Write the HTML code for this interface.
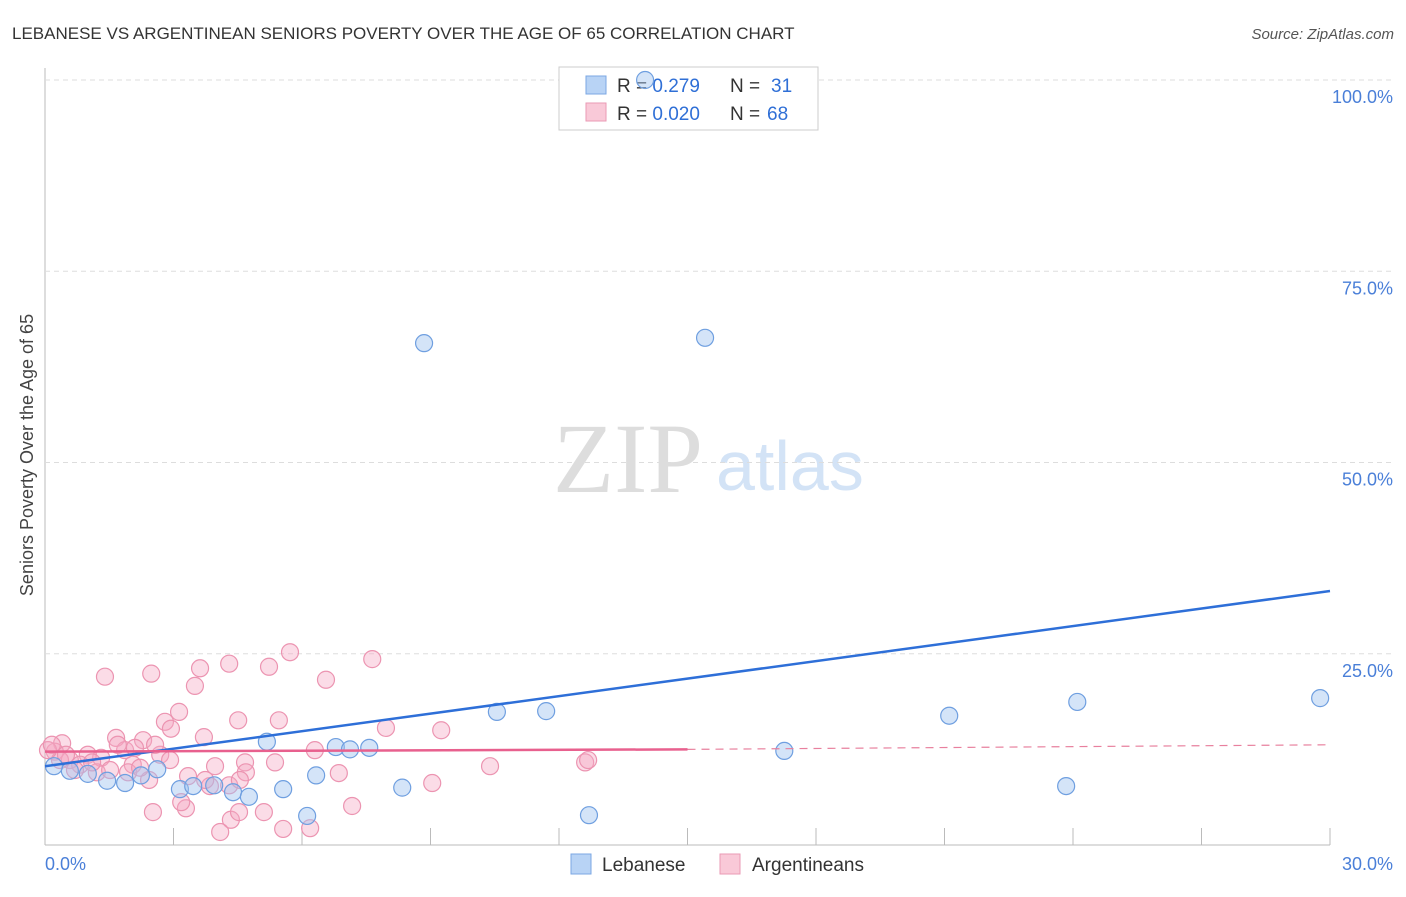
<!DOCTYPE html>
<html><head><meta charset="utf-8"><style>
body{margin:0;background:#fff;font-family:"Liberation Sans",sans-serif}
</style></head><body>
<svg id="chart" width="1406" height="892" font-family="Liberation Sans, sans-serif">
<text x="12" y="39" font-size="17" fill="#333">LEBANESE VS ARGENTINEAN SENIORS POVERTY OVER THE AGE OF 65 CORRELATION CHART</text>
<text x="1394" y="39" font-size="15" fill="#555" font-style="italic" text-anchor="end">Source: ZipAtlas.com</text>
<text transform="translate(33,455) rotate(-90)" font-size="18" fill="#444" text-anchor="middle">Seniors Poverty Over the Age of 65</text>
<g><text x="553" y="492" font-size="100" fill="#ddd" style="font-family:'Liberation Serif',serif">ZIP</text><text x="716" y="490" font-size="70" fill="#d3e3f6">atlas</text></g>
<g id="grid"></g>
<g>
<rect x="559" y="67" width="259" height="63" fill="#fff" stroke="#ccc"/>
<rect x="586" y="76" width="20" height="18" fill="#b8d3f5" stroke="#7ba7e3"/>
<rect x="586" y="103" width="20" height="18" fill="#f9c9d8" stroke="#ea9ab4"/>
<text x="617" y="92" font-size="19" fill="#333">R = <tspan fill="#2f6fd6">0.279</tspan><tspan x="730">N = </tspan><tspan fill="#2f6fd6" x="771">31</tspan></text>
<text x="617" y="120" font-size="19" fill="#333">R = <tspan fill="#2f6fd6">0.020</tspan><tspan x="730">N = </tspan><tspan fill="#2f6fd6" x="767">68</tspan></text>
</g>
<g id="pts"></g><g id="lines"></g>
<g>
<rect x="571" y="854" width="20" height="20" fill="#b8d3f5" stroke="#7ba7e3"/>
<text x="602" y="871" font-size="19" fill="#333">Lebanese</text>
<rect x="720" y="854" width="20" height="20" fill="#f9c9d8" stroke="#ea9ab4"/>
<text x="752" y="871" font-size="19" fill="#333">Argentineans</text>
</g>
</svg>
<script>
const blueX=[14.01,8.85,15.41,5.18,6.79,7.12,7.57,10.55,11.70,6.33,2.62,2.24,1.87,1.45,1.00,0.58,0.21,3.15,3.46,3.95,4.39,4.76,5.56,6.12,8.34,12.70,17.26,21.11,24.10,29.77,23.84];
const blueY=[100.0,65.6,66.3,13.5,12.8,12.5,12.7,17.4,17.5,9.1,9.9,9.1,8.1,8.4,9.3,9.7,10.3,7.3,7.7,7.8,6.9,6.3,7.3,3.8,7.5,3.9,12.3,16.9,18.7,19.2,7.7];
const pinkX=[1.40,2.48,3.62,3.50,4.30,5.23,5.72,6.56,7.64,2.80,3.13,2.94,3.71,4.51,5.46,1.66,2.29,1.31,1.00,1.87,0.40,0.23,0.58,0.82,1.21,2.05,2.69,2.10,3.97,4.67,5.37,6.30,6.86,7.96,9.25,10.39,12.61,12.68,9.04,4.69,4.30,3.85,3.34,3.29,3.18,2.52,2.43,4.34,4.53,4.09,5.11,5.56,6.19,7.17,4.55,1.52,0.35,0.70,1.94,2.57,0.07,0.16,0.49,1.10,1.70,2.92,3.74,2.22];
const pinkY=[22.0,22.4,23.1,20.8,23.7,23.3,25.2,21.6,24.3,16.1,17.4,15.2,14.1,16.3,16.3,14.0,13.7,11.4,11.8,12.4,13.3,12.2,11.1,10.5,9.5,10.5,11.8,12.7,10.3,10.8,10.8,12.4,9.4,15.3,15.0,10.3,10.8,11.1,8.1,9.5,7.8,7.7,9.0,4.8,5.6,4.3,8.5,3.3,4.3,1.7,4.3,2.1,2.2,5.1,8.5,9.8,11.1,9.8,9.5,13.1,12.4,13.1,11.8,10.8,13.1,11.1,8.5,10.1];
const yTicks=[25,50,75,100];
const xTicks=[0,3,6,9,12,15,18,21,24,27,30];
const blueTrend=[10.3,33.2];
const pinkTrend=[12.2,12.5,13.1];
const X=v=>45+v/30*1285, Y=v=>845-v/100*765;
const NS="http://www.w3.org/2000/svg";
function mk(p,t,a){const e=document.createElementNS(NS,t);for(const k in a)e.setAttribute(k,a[k]);document.getElementById(p).appendChild(e);return e;}
let ax=mk('grid','line',{x1:45,y1:68,x2:45,y2:845,stroke:'#bbb'});


ax=mk('grid','line',{x1:45,y1:845,x2:1330,y2:845,stroke:'#bbb'});


yTicks.forEach(t=>{
 const l=mk('grid','line',{x1:45,y1:Y(t),x2:1392,y2:Y(t),stroke:'#ddd','stroke-dasharray':'5,4'});
 
 
 const tx=mk('grid','text',{x:1393,y:Y(t)+23,'font-size':18,fill:'#4a7fd8','text-anchor':'end'});tx.textContent=t.toFixed(1)+'%';
 
 
});
xTicks.forEach(t=>{const l=mk('grid','line',{x1:X(t),y1:828,x2:X(t),y2:845,stroke:'#bbb'});
 
 });
[[0,'0.0%','start',45],[30,'30.0%','end',1393]].forEach(([t,s,a,x])=>{const tx=mk('grid','text',{x:x,y:870,'font-size':18,fill:'#4a7fd8','text-anchor':a});tx.textContent=s;
 
 });
pinkX.forEach((v,i)=>{const c=mk('pts','circle',{cx:X(v),cy:Y(pinkY[i]),r:8.5,fill:'rgba(244,168,194,0.4)',stroke:'#ec94b1','stroke-width':1.2});
 
 });
blueX.forEach((v,i)=>{const c=mk('pts','circle',{cx:X(v),cy:Y(blueY[i]),r:8.5,fill:'rgba(160,196,240,0.45)',stroke:'#6f9fe0','stroke-width':1.2});
 
 });
let l=mk('lines','line',{x1:X(0),y1:Y(blueTrend[0]),x2:X(30),y2:Y(blueTrend[1]),stroke:'#2e6fd8','stroke-width':2.5});


l=mk('lines','line',{x1:X(0),y1:Y(pinkTrend[0]),x2:X(15),y2:Y(pinkTrend[1]),stroke:'#e8608e','stroke-width':2.5});


l=mk('lines','line',{x1:X(15),y1:Y(pinkTrend[1]),x2:X(30),y2:Y(pinkTrend[2]),stroke:'#e8809e','stroke-width':1.2,'stroke-dasharray':'8,6'});


</script>
</body></html>
